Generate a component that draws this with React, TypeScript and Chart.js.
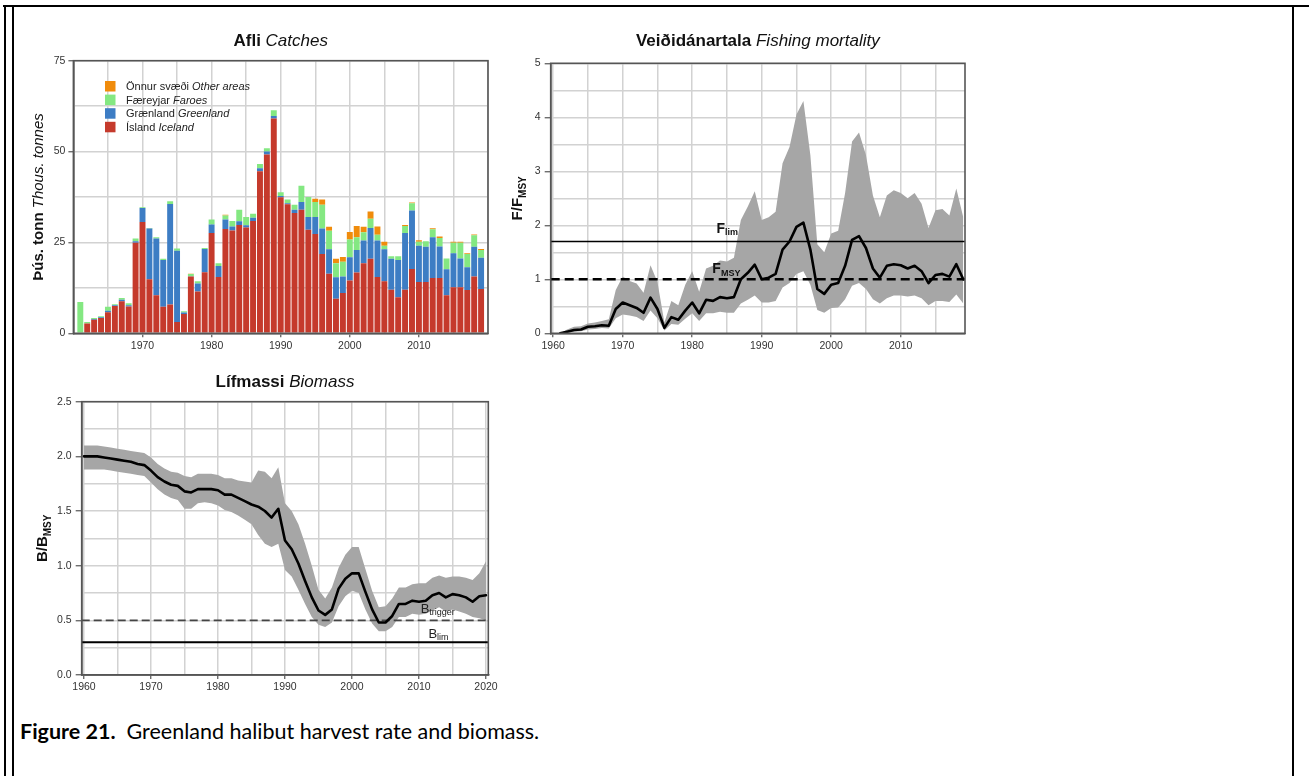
import { useEffect, useRef } from 'react';
import { Chart, registerables } from 'chart.js';

Chart.register(...registerables);

// ---------- Catches by area (thousand tonnes) ----------
const catchYears = [
  1961, 1962, 1963, 1964, 1965, 1966, 1967, 1968, 1969, 1970,
  1971, 1972, 1973, 1974, 1975, 1976, 1977, 1978, 1979, 1980,
  1981, 1982, 1983, 1984, 1985, 1986, 1987, 1988, 1989, 1990,
  1991, 1992, 1993, 1994, 1995, 1996, 1997, 1998, 1999, 2000,
  2001, 2002, 2003, 2004, 2005, 2006, 2007, 2008, 2009, 2010,
  2011, 2012, 2013, 2014, 2015, 2016, 2017, 2018, 2019,
];
const catchIceland = [
  0, 2.7, 3.7, 4.2, 5.8, 7.5, 8.8, 7.4, 24.9, 30.6,
  14.9, 10.5, 7.3, 7.9, 3.1, 5.3, 15.6, 11.5, 16.8, 27.6,
  15.5, 28.7, 28.3, 29.8, 29.1, 30.9, 44.6, 49.2, 59.1, 37.4,
  35.5, 33.1, 34.0, 28.5, 27.3, 21.8, 16.4, 9.5, 11.1, 14.5,
  16.7, 19.3, 20.5, 15.5, 14.3, 12.0, 9.9, 12.0, 17.7, 14.1,
  14.1, 15.2, 15.2, 10.5, 12.7, 12.7, 11.9, 15.6, 12.2,
];
const catchGreenland = [
  0, 0, 0.2, 0.2, 0.4, 0.2, 0.4, 0.3, 0.4, 3.9,
  13.9, 15.6, 12.9, 27.7, 19.6, 0.4, 0.1, 2.2, 6.4, 2.3,
  3.0, 2.6, 1.1, 1.0, 0.6, 0.9, 0.8, 0.8, 0.7, 0.4,
  0.3, 0.9, 2.1, 3.5, 4.7, 7.0, 6.7, 5.9, 4.5, 6.4,
  6.2, 6.2, 8.5, 10.0, 8.8, 8.5, 10.3, 15.6, 16.1, 10.0,
  9.7, 11.2, 8.7, 7.1, 9.3, 7.9, 6.3, 8.2, 8.6,
];
const catchFaroes = [
  8.6, 0.4, 0.3, 0.3, 1.1, 0.3, 0.5, 0.6, 0.8, 0.2,
  0.2, 0.3, 0.3, 0.7, 0.6, 0.4, 0.6, 0.6, 0.3, 1.4,
  0.8, 1.1, 1.5, 3.2, 2.3, 1.1, 1.2, 0.9, 1.6, 1.0,
  1.0, 1.4, 4.5, 5.5, 4.1, 6.6, 5.1, 3.9, 4.1, 4.9,
  3.5, 2.3, 2.5, 1.6, 1.0, 0.7, 1.0, 1.9, 2.0, 1.1,
  1.5, 2.2, 2.3, 3.0, 2.9, 4.3, 3.6, 3.2, 2.1,
];
const catchOther = [
  0, 0, 0, 0, 0, 0, 0, 0, 0, 0,
  0, 0, 0, 0, 0, 0, 0.1, 0, 0, 0,
  0, 0.2, 0, 0, 0, 0, 0, 0, 0, 0,
  0, 0, 0, 0, 0.9, 1.4, 1.1, 1.2, 1.3, 2.1,
  3.1, 1.5, 2.0, 2.3, 1.1, 0, 0, 0.3, 0.2, 0.4,
  0, 0.3, 0.4, 0, 0.3, 0.3, 0.2, 0.2, 0.3,
];
// series names, bottom of the stack first
const areaNamesIs = ['Ísland', 'Grænland', 'Færeyjar', 'Önnur svæði'];
const areaNamesEn = ['Iceland', 'Greenland', 'Faroes', 'Other areas'];
const catchXTicks = [1960, 1965, 1970, 1975, 1980, 1985, 1990, 1995, 2000, 2005, 2010, 2015, 2020];
const catchXLabels = [1970, 1980, 1990, 2000, 2010];
const catchYTicks = [0, 12.5, 25, 37.5, 50, 62.5, 75];
const catchYLabels = [0, 25, 50, 75];

// ---------- Fishing mortality, F/Fmsy ----------
const fYears = catchYears;
const fEstimate = [
  0.00, 0.03, 0.06, 0.07, 0.12, 0.13, 0.15, 0.14, 0.45, 0.57,
  0.52, 0.47, 0.38, 0.66, 0.45, 0.10, 0.30, 0.25, 0.42, 0.57,
  0.37, 0.62, 0.60, 0.67, 0.65, 0.67, 1.00, 1.12, 1.27, 1.00,
  1.03, 1.10, 1.55, 1.70, 1.97, 2.05, 1.55, 0.82, 0.73, 0.90,
  0.93, 1.25, 1.73, 1.80, 1.58, 1.20, 1.03, 1.25, 1.28, 1.26,
  1.20, 1.25, 1.15, 0.93, 1.08, 1.10, 1.05, 1.28, 1.00,
];
const fUpper = [
  0.00, 0.07, 0.12, 0.13, 0.18, 0.20, 0.23, 0.26, 0.80, 1.05,
  0.97, 0.92, 0.75, 1.26, 0.95, 0.20, 0.60, 0.52, 0.90, 1.15,
  0.77, 1.20, 1.25, 1.35, 1.33, 1.40, 2.10, 2.35, 2.63, 2.10,
  2.15, 2.25, 3.15, 3.45, 4.05, 4.30, 3.30, 1.65, 1.50, 1.85,
  1.90, 2.60, 3.55, 3.72, 3.30, 2.55, 2.15, 2.55, 2.65, 2.60,
  2.50, 2.60, 2.40, 1.95, 2.28, 2.30, 2.18, 2.68, 2.15,
];
const fLower = [
  0.00, 0.01, 0.03, 0.04, 0.07, 0.08, 0.10, 0.09, 0.28, 0.35,
  0.33, 0.30, 0.23, 0.42, 0.28, 0.05, 0.17, 0.16, 0.27, 0.37,
  0.23, 0.37, 0.37, 0.40, 0.38, 0.38, 0.55, 0.62, 0.70, 0.57,
  0.57, 0.60, 0.85, 0.93, 1.10, 1.15, 0.90, 0.43, 0.38, 0.47,
  0.48, 0.63, 0.88, 0.93, 0.82, 0.63, 0.55, 0.65, 0.70, 0.70,
  0.68, 0.70, 0.65, 0.52, 0.60, 0.60, 0.58, 0.72, 0.55,
];
const F_LIM = 1.7;
const F_MSY = 1.0;
const fXTicks = [1960, 1965, 1970, 1975, 1980, 1985, 1990, 1995, 2000, 2005, 2010, 2015];
const fXLabels = [1960, 1970, 1980, 1990, 2000, 2010];
const fYTicks = [0, 0.5, 1, 1.5, 2, 2.5, 3, 3.5, 4, 4.5, 5];
const fYLabels = [0, 1, 2, 3, 4, 5];

// ---------- Biomass, B/Bmsy ----------
const bYears = [
  1960, 1961, 1962, 1963, 1964, 1965, 1966, 1967, 1968, 1969,
  1970, 1971, 1972, 1973, 1974, 1975, 1976, 1977, 1978, 1979,
  1980, 1981, 1982, 1983, 1984, 1985, 1986, 1987, 1988, 1989,
  1990, 1991, 1992, 1993, 1994, 1995, 1996, 1997, 1998, 1999,
  2000, 2001, 2002, 2003, 2004, 2005, 2006, 2007, 2008, 2009,
  2010, 2011, 2012, 2013, 2014, 2015, 2016, 2017, 2018, 2019, 2020,
];
const bEstimate = [
  2.00, 2.00, 2.00, 1.99, 1.98, 1.97, 1.96, 1.95, 1.93, 1.92,
  1.87, 1.81, 1.77, 1.74, 1.73, 1.68, 1.67, 1.70, 1.70, 1.70,
  1.69, 1.65, 1.65, 1.62, 1.59, 1.56, 1.54, 1.50, 1.44, 1.52,
  1.23, 1.15, 1.02, 0.86, 0.71, 0.59, 0.55, 0.60, 0.79, 0.88,
  0.93, 0.93, 0.76, 0.60, 0.48, 0.48, 0.54, 0.65, 0.65, 0.68,
  0.67, 0.68, 0.73, 0.75, 0.71, 0.74, 0.73, 0.71, 0.67, 0.72, 0.73,
];
const bUpper = [
  2.10, 2.10, 2.10, 2.09, 2.08, 2.07, 2.06, 2.05, 2.04, 2.03,
  1.99, 1.93, 1.89, 1.86, 1.85, 1.82, 1.81, 1.84, 1.84, 1.84,
  1.83, 1.80, 1.80, 1.78, 1.77, 1.76, 1.87, 1.86, 1.80, 1.90,
  1.57, 1.50, 1.38, 1.20, 1.00, 0.78, 0.70, 0.80, 0.98, 1.10,
  1.17, 1.17, 0.97, 0.77, 0.62, 0.63, 0.70, 0.80, 0.80, 0.83,
  0.84, 0.84, 0.89, 0.91, 0.89, 0.90, 0.90, 0.89, 0.87, 0.93, 1.04,
];
const bLower = [
  1.88, 1.88, 1.88, 1.88, 1.87, 1.86, 1.85, 1.84, 1.83, 1.82,
  1.76, 1.70, 1.65, 1.62, 1.60, 1.52, 1.52, 1.57, 1.58, 1.57,
  1.55, 1.51, 1.49, 1.46, 1.42, 1.38, 1.28, 1.20, 1.17, 1.20,
  0.96, 0.90, 0.78, 0.65, 0.53, 0.46, 0.44, 0.48, 0.63, 0.72,
  0.77, 0.75, 0.60, 0.47, 0.40, 0.40, 0.44, 0.53, 0.53, 0.56,
  0.55, 0.56, 0.59, 0.62, 0.58, 0.60, 0.58, 0.56, 0.53, 0.52, 0.50,
];
const B_TRIGGER = 0.5;
const B_LIM = 0.3;
const bXTicks = [1960, 1965, 1970, 1975, 1980, 1985, 1990, 1995, 2000, 2005, 2010, 2015, 2020];
const bXLabels = [1960, 1970, 1980, 1990, 2000, 2010, 2020];
const bYTicks = [0, 0.25, 0.5, 0.75, 1, 1.25, 1.5, 1.75, 2, 2.25, 2.5];
const bYLabels = [0, 0.5, 1, 1.5, 2, 2.5];

// ---------- styling ----------
const FONT = '"Liberation Sans", Arial, Helvetica, sans-serif';
const AXIS = '#555555';
const GRID = '#d2d2d2';
const TICK_TEXT = '#333333';
const BAND = '#a6a6a6';
const AREA_COLORS = ['#c53a2c', '#3d7dc4', '#84e882', '#f08c0c'];

const f = (style: string, size: number) => `${style} ${size}px ${FONT}`;

type Run = { t: string; font: string; dy?: number };

function drawRuns(ctx: CanvasRenderingContext2D, runs: Run[], x: number, y: number, align: 'left' | 'center', color: string) {
  ctx.save();
  ctx.fillStyle = color;
  ctx.textAlign = 'left';
  ctx.textBaseline = 'alphabetic';
  const widths = runs.map((r) => {
    ctx.font = r.font;
    return ctx.measureText(r.t).width;
  });
  const total = widths.reduce((s, w) => s + w, 0);
  let cx = align === 'center' ? x - total / 2 : x;
  runs.forEach((r, i) => {
    ctx.font = r.font;
    ctx.fillText(r.t, cx, y + (r.dy || 0));
    cx += widths[i];
  });
  ctx.restore();
}

function drawFrame(chart: any) {
  const { ctx, chartArea: a } = chart;
  ctx.save();
  ctx.strokeStyle = AXIS;
  ctx.lineWidth = 1.6;
  ctx.strokeRect(a.left, a.top, a.right - a.left, a.bottom - a.top);
  ctx.restore();
}

function drawTitles(chart: any, title: Run[], titleGap: number, yTitle: Run[], yGap: number) {
  const { ctx, chartArea: a } = chart;
  drawRuns(ctx, title, (a.left + a.right) / 2, a.top - titleGap, 'center', '#111');
  ctx.save();
  ctx.translate(a.left - yGap, (a.top + a.bottom) / 2);
  ctx.rotate(-Math.PI / 2);
  drawRuns(ctx, yTitle, 0, 0, 'center', '#111');
  ctx.restore();
}

function axis(o: {
  min: number; max: number; ticks: number[]; labels: number[]; fmt: (v: number) => string;
  side: 'x' | 'y'; size: number; tickLen: number; pad: number; stacked?: boolean;
}) {
  const isLab = (v: number) => o.labels.some((l) => Math.abs(l - v) < 1e-9);
  return {
    type: 'linear',
    min: o.min,
    max: o.max,
    offset: false,
    stacked: !!o.stacked,
    afterBuildTicks: (s: any) => {
      s.ticks = o.ticks.map((value) => ({ value }));
    },
    afterFit: (s: any) => {
      if (o.side === 'x') s.height = o.size;
      else s.width = o.size;
    },
    ticks: {
      autoSkip: false,
      maxRotation: 0,
      minRotation: 0,
      padding: o.pad,
      color: TICK_TEXT,
      font: { family: FONT, size: 10.5 },
      callback: (v: any) => (isLab(Number(v)) ? o.fmt(Number(v)) : ''),
    },
    grid: {
      color: GRID,
      lineWidth: 1.5,
      offset: false,
      drawTicks: true,
      tickLength: o.tickLen,
      tickWidth: 1.2,
      tickColor: (c: any) => (c.tick && isLab(c.tick.value) ? AXIS : 'rgba(0,0,0,0)'),
    },
    border: { display: true, color: AXIS, width: 1.6 },
  };
}

const pts = (xs: number[], ys: number[]) => xs.map((x, i) => ({ x, y: ys[i] }));

// ---------- chart configs ----------
function catchesConfig(): any {
  const stackData = [catchIceland, catchGreenland, catchFaroes, catchOther];
  return {
    type: 'bar',
    data: {
      datasets: stackData.map((vals, k) => ({
        label: areaNamesEn[k],
        data: pts(catchYears, vals),
        backgroundColor: AREA_COLORS[k],
        borderWidth: 0,
        barPercentage: 1,
        categoryPercentage: 0.86,
        stack: 'catch',
      })),
    },
    options: {
      responsive: false,
      animation: false,
      events: [],
      layout: { padding: { top: 60.7, right: 12, bottom: 0, left: 0 } },
      plugins: { legend: { display: false }, tooltip: { enabled: false }, title: { display: false } },
      scales: {
        x: axis({ min: 1960, max: 2020, ticks: catchXTicks, labels: catchXLabels, fmt: String, side: 'x', size: 26.7, tickLen: 4, pad: 3, stacked: true }),
        y: axis({ min: 0, max: 75, ticks: catchYTicks, labels: catchYLabels, fmt: String, side: 'y', size: 73.4, tickLen: 5, pad: 3, stacked: true }),
      },
    },
    plugins: [
      {
        id: 'decor',
        afterDatasetsDraw: drawFrame,
        afterDraw(chart: any) {
          const { ctx, chartArea: a } = chart;
          drawTitles(
            chart,
            [{ t: 'Afli ', font: f('bold', 17) }, { t: 'Catches', font: f('italic', 17) }],
            14.7,
            [{ t: 'Þús. tonn ', font: f('bold', 15) }, { t: 'Thous. tonnes', font: f('italic', 15) }],
            30,
          );
          // legend, top entry is the top of the stack
          const order = [3, 2, 1, 0];
          order.forEach((k, row) => {
            const top = a.top + 20.3 + row * 13.6;
            ctx.save();
            ctx.fillStyle = AREA_COLORS[k];
            ctx.fillRect(a.left + 31.6, top, 10.5, 10.5);
            ctx.restore();
            drawRuns(
              ctx,
              [{ t: areaNamesIs[k] + ' ', font: f('normal', 11) }, { t: areaNamesEn[k], font: f('italic', 11) }],
              a.left + 52.6,
              top + 9,
              'left',
              '#222',
            );
          });
        },
      },
    ],
  };
}

function fConfig(): any {
  const xMin = 1959.64;
  const xMax = 2019.25;
  return {
    type: 'line',
    data: {
      datasets: [
        { data: pts(fYears, fEstimate), borderColor: '#000', borderWidth: 2.6, pointRadius: 0, tension: 0, fill: false, borderJoinStyle: 'round', borderCapStyle: 'round', order: 0 },
        { data: [{ x: xMin, y: F_LIM }, { x: xMax, y: F_LIM }], borderColor: '#000', borderWidth: 1.4, pointRadius: 0, fill: false, order: 1 },
        { data: [{ x: xMin, y: F_MSY }, { x: xMax, y: F_MSY }], borderColor: '#000', borderWidth: 2.4, borderDash: [9, 5], pointRadius: 0, fill: false, order: 1 },
        { data: pts(fYears, fUpper), borderWidth: 0, borderColor: BAND, backgroundColor: BAND, pointRadius: 0, tension: 0, fill: '+1', order: 2 },
        { data: pts(fYears, fLower), borderWidth: 0, borderColor: BAND, pointRadius: 0, tension: 0, fill: false, order: 2 },
      ],
    },
    options: {
      responsive: false,
      animation: false,
      events: [],
      layout: { padding: { top: 43.3, right: 25, bottom: 0, left: 0 } },
      plugins: { legend: { display: false }, tooltip: { enabled: false }, title: { display: false } },
      scales: {
        x: axis({ min: xMin, max: xMax, ticks: fXTicks, labels: fXLabels, fmt: String, side: 'x', size: 26.7, tickLen: 4, pad: 3 }),
        y: axis({ min: 0, max: 5, ticks: fYTicks, labels: fYLabels, fmt: String, side: 'y', size: 60.7, tickLen: 6, pad: 4 }),
      },
    },
    plugins: [
      {
        id: 'decor',
        afterDatasetsDraw: drawFrame,
        afterDraw(chart: any) {
          const { ctx, scales } = chart;
          drawTitles(
            chart,
            [{ t: 'Veiðidánartala ', font: f('bold', 17) }, { t: 'Fishing mortality', font: f('italic', 17) }],
            17,
            [{ t: 'F/F', font: f('bold', 15) }, { t: 'MSY', font: f('bold', 10), dy: 4 }],
            29,
          );
          const marks = [
            { main: 'F', sub: 'lim', year: 1983.5, value: 1.86 },
            { main: 'F', sub: 'MSY', year: 1982.9, value: 1.11 },
          ];
          marks.forEach((m) =>
            drawRuns(
              ctx,
              [{ t: m.main, font: f('bold', 14) }, { t: m.sub, font: f('bold', 9), dy: 2.5 }],
              scales.x.getPixelForValue(m.year),
              scales.y.getPixelForValue(m.value),
              'left',
              '#111',
            ),
          );
        },
      },
    ],
  };
}

function bConfig(): any {
  const xMin = 1959.66;
  const xMax = 2020.34;
  return {
    type: 'line',
    data: {
      datasets: [
        { data: pts(bYears, bEstimate), borderColor: '#000', borderWidth: 2.6, pointRadius: 0, tension: 0, fill: false, borderJoinStyle: 'round', borderCapStyle: 'round', order: 0 },
        { data: [{ x: xMin, y: B_TRIGGER }, { x: xMax, y: B_TRIGGER }], borderColor: '#444', borderWidth: 1.6, borderDash: [8, 4], pointRadius: 0, fill: false, order: 1 },
        { data: [{ x: xMin, y: B_LIM }, { x: xMax, y: B_LIM }], borderColor: '#000', borderWidth: 2, pointRadius: 0, fill: false, order: 1 },
        { data: pts(bYears, bUpper), borderWidth: 0, borderColor: BAND, backgroundColor: BAND, pointRadius: 0, tension: 0, fill: '+1', order: 2 },
        { data: pts(bYears, bLower), borderWidth: 0, borderColor: BAND, pointRadius: 0, tension: 0, fill: false, order: 2 },
      ],
    },
    options: {
      responsive: false,
      animation: false,
      events: [],
      layout: { padding: { top: 41.7, right: 21.7, bottom: 0, left: 0 } },
      plugins: { legend: { display: false }, tooltip: { enabled: false }, title: { display: false } },
      scales: {
        x: axis({ min: xMin, max: xMax, ticks: bXTicks, labels: bXLabels, fmt: String, side: 'x', size: 25, tickLen: 4, pad: 2 }),
        y: axis({ min: 0, max: 2.5, ticks: bYTicks, labels: bYLabels, fmt: (v) => v.toFixed(1), side: 'y', size: 81.7, tickLen: 6, pad: 4 }),
      },
    },
    plugins: [
      {
        id: 'decor',
        afterDatasetsDraw: drawFrame,
        afterDraw(chart: any) {
          const { ctx, scales } = chart;
          drawTitles(
            chart,
            [{ t: 'Lífmassi ', font: f('bold', 17) }, { t: 'Biomass', font: f('italic', 17) }],
            14.4,
            [{ t: 'B/B', font: f('bold', 15) }, { t: 'MSY', font: f('bold', 10), dy: 4 }],
            35,
          );
          const marks = [
            { main: 'B', sub: 'trigger', year: 2010.25, value: 0.57 },
            { main: 'B', sub: 'lim', year: 2011.4, value: 0.34 },
          ];
          marks.forEach((m) =>
            drawRuns(
              ctx,
              [{ t: m.main, font: f('normal', 13) }, { t: m.sub, font: f('normal', 9), dy: 2.5 }],
              scales.x.getPixelForValue(m.year),
              scales.y.getPixelForValue(m.value),
              'left',
              '#222',
            ),
          );
        },
      },
    ],
  };
}

function ChartBox(props: { left: number; top: number; width: number; height: number; make: () => any }) {
  const ref = useRef<HTMLCanvasElement | null>(null);
  useEffect(() => {
    const chart = new Chart(ref.current as HTMLCanvasElement, props.make());
    return () => chart.destroy();
  }, []);
  return (
    <canvas
      ref={ref}
      width={props.width}
      height={props.height}
      style={{ position: 'absolute', left: props.left, top: props.top, width: props.width, height: props.height }}
    />
  );
}

const line = (left: number, top: number, width: number, height: number) => (
  <div style={{ position: 'absolute', left, top, width, height, background: '#000' }} />
);

export default function App() {
  return (
    <div style={{ position: 'absolute', left: 0, top: 0, width: 1309, height: 776, overflow: 'hidden', background: '#fff' }}>
      {line(3, 5, 1306, 2)}
      {line(4, 5, 2, 771)}
      {line(12, 7, 2, 769)}
      {line(1292, 5, 2, 771)}
      <ChartBox left={0} top={0} width={500} height={360} make={catchesConfig} />
      <ChartBox left={490} top={20} width={500} height={340} make={fConfig} />
      <ChartBox left={0} top={360} width={510} height={340} make={bConfig} />
      <div
        style={{
          position: 'absolute',
          left: 20,
          top: 721,
          fontFamily: 'Lato, "Open Sans", sans-serif',
          fontSize: 21.5,
          lineHeight: '21.5px',
          whiteSpace: 'pre',
          color: '#000',
        }}
      >
        <b>Figure 21.</b>
        {'  Greenland halibut harvest rate and biomass.'}
      </div>
    </div>
  );
}
